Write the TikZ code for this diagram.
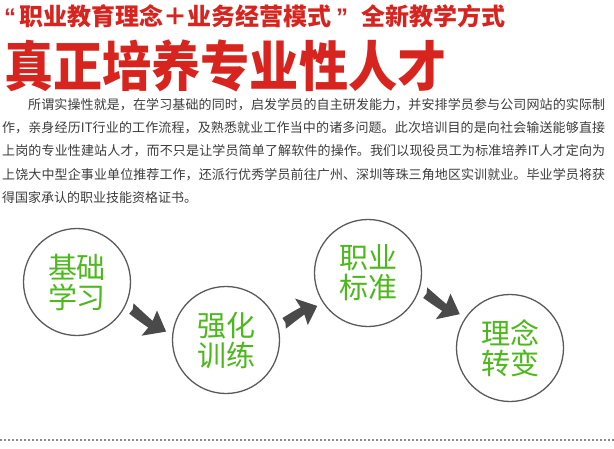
\documentclass[tikz,border=0pt]{standalone}
\usepackage{fontspec}
\setmainfont{Noto Sans CJK SC}
\newfontfamily\quotefont{Liberation Sans}
\usetikzlibrary{calc}
\XeTeXlinebreaklocale "zh"
\XeTeXlinebreakskip=0pt plus 1pt

\definecolor{titlered}{HTML}{D8241F}
\definecolor{stepgreen}{HTML}{4CB81B}
\definecolor{ringgrey}{HTML}{5A5A5A}
\definecolor{arrowgrey}{HTML}{4A4A4A}
\definecolor{bodygrey}{HTML}{3C3C3C}
\definecolor{dotgrey}{HTML}{8A8A8A}

\tikzset{
  stage/.style={circle, draw=ringgrey, line width=1.3pt, minimum size=107pt,
    inner sep=0pt, outer sep=7pt, align=center, text=stepgreen,
    font=\fontsize{29}{30}\selectfont},
  swoosh/.style={fill=arrowgrey, to path={
    let \p1=($(\tikztotarget)-(\tikztostart)$),
        \n1={atan2(\y1,\x1)}, \n2={veclen(\x1,\y1)} in
    {[shift={(\tikztostart)}, rotate=\n1, xscale={\n2/39}, yscale=#1]
      (-1,5.5) .. controls (8,4) and (16,2.5) .. (23,1.5) -- (21,12.5)
      -- (39,0) -- (22,-17) -- (23,-6.5)
      .. controls (16,-6.5) and (8,-6) .. (1,-5.5) -- (1.5,0) -- cycle}}},
  swoosh/.default=1,
}

\begin{document}
\begin{tikzpicture}[x=1pt,y=1pt]
  \useasboundingbox (0,0) rectangle (614,-448);

  % headlines
  \node[anchor=base west, inner sep=0pt, text=titlered,
        font=\fontsize{24}{24}\selectfont\bfseries] (slogan) at (4,-25)
        {{\quotefont “}\hspace{3pt}职业教育理念＋业务经营模式\hspace{5pt}{\quotefont ”}\hspace{13pt}全新教学方式};
  \node[anchor=base west, inner sep=0pt, text=titlered, xscale=0.91,
        font=\fontsize{54}{54}\selectfont\bfseries] (headline) at (4,-86)
        {真正培养专业性人才};

  % intro text
  \node[anchor=north west, inner sep=0pt, text width=603pt, align=justify,
        text=bodygrey, font=\fontsize{13}{23.3}\selectfont] (intro) at (2,-98)
        {\hspace*{26pt}所谓实操性就是，在学习基础的同时，启发学员的自主研发能力，并安排学员参与公司网站的实际制\linebreak
         作，亲身经历IT行业的工作流程，及熟悉就业工作当中的诸多问题。此次培训目的是向社会输送能够直接\linebreak
         上岗的专业性建站人才，而不只是让学员简单了解软件的操作。我们以现役员工为标准培养IT人才定向为\linebreak
         上饶大中型企事业单位推荐工作，还派行优秀学员前往广州、深圳等珠三角地区实训就业。毕业学员将获\linebreak
         得国家承认的职业技能资格证书。};

  % stages
  \node[stage] (c1) at (77,-282)  {基础\\学习};
  \node[stage] (c2) at (226,-340) {强化\\训练};
  \node[stage] (c3) at (368,-273) {职业\\标准};
  \node[stage] (c4) at (510,-348) {理念\\转变};

  \path[swoosh]    (c1.-26) to (c2.172);
  \path[swoosh=-1] (c2.16)  to (c3.213);
  \path[swoosh]    (c3.-19) to (c4.146);

  % bottom rule
  \coordinate (ruleL) at (0,-440);
  \coordinate (ruleR) at (614,-440);
  \draw[dotgrey, line width=1.5pt, dash pattern=on 1.5pt off 2.5pt] (ruleL) -- (ruleR);
\end{tikzpicture}
\end{document}
